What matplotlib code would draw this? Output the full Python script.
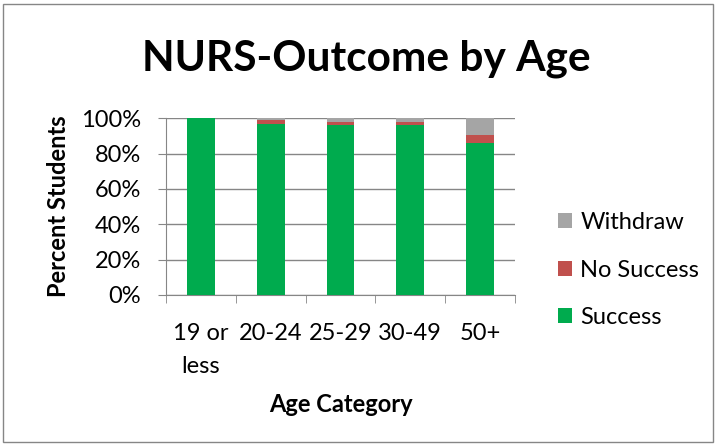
import matplotlib
matplotlib.use("Agg")
import matplotlib.pyplot as plt
from matplotlib.patches import Rectangle
import numpy as np

categories = ["19 or\nless", "20-24", "25-29", "30-49", "50+"]
success = [100.0, 97.0, 96.4, 96.4, 86.2]
no_success = [0.0, 2.2, 1.5, 1.7, 4.2]
withdraw = [0.0, 0.8, 2.1, 1.9, 9.6]
yticks = [0, 20, 40, 60, 80, 100]

plt.rcParams['font.family'] = ['Lato', 'DejaVu Sans']
FS = 17
fig = plt.figure(figsize=(7.17, 4.46), dpi=100)
fig.patches.append(Rectangle((0.004, 0.01), 0.99, 0.982, transform=fig.transFigure,
                             fill=False, edgecolor='#868686', linewidth=1))
ax = fig.add_axes([0.2315, 0.3386, 0.4868, 0.3962])
x = np.arange(len(categories))
w = 0.4
ax.bar(x, success, w, color='#00AB4E', label='Success', zorder=3)
ax.bar(x, no_success, w, bottom=success, color='#C0504D', label='No Success', zorder=3)
bot = np.array(success) + np.array(no_success)
ax.bar(x, withdraw, w, bottom=bot, color='#A5A5A5', label='Withdraw', zorder=3)

ax.set_xlim(-0.5, len(categories) - 0.5)
ax.set_ylim(0, 100)
ax.set_yticks(yticks)
ax.set_yticklabels([f"{v}%" for v in yticks], fontsize=FS)
ax.set_xticks(x)
ax.set_xticklabels(categories, fontsize=FS, linespacing=1.7, va='top')
ax.set_xticks(np.arange(-0.5, len(categories)), minor=True)
ax.tick_params(axis='x', which='major', length=0, pad=20)
ax.tick_params(axis='x', which='minor', length=6, color='#868686')
ax.tick_params(axis='y', length=6, color='#868686', pad=12)
ax.grid(axis='y', color='#868686', linewidth=1, zorder=0)
for s in ['top', 'right']:
    ax.spines[s].set_visible(False)
for s in ['left', 'bottom']:
    ax.spines[s].set_color('#868686')
ax.set_ylabel('Percent Students', fontsize=FS, fontweight='bold', labelpad=8)
ax.set_xlabel('Age Category', fontsize=FS, fontweight='bold', labelpad=12)

fig.text(0.511, 0.843, 'NURS-Outcome by Age', fontsize=30.5, fontweight='bold',
         ha='center', va='baseline')

h, l = ax.get_legend_handles_labels()
fig.legend(h[::-1], l[::-1], loc='center left', bbox_to_anchor=(0.778, 0.3946),
           frameon=False, fontsize=FS, handlelength=0.6, handleheight=0.6,
           labelspacing=1.12, handletextpad=0.35, borderpad=0, borderaxespad=0)

fig.savefig('out.png', dpi=100)
